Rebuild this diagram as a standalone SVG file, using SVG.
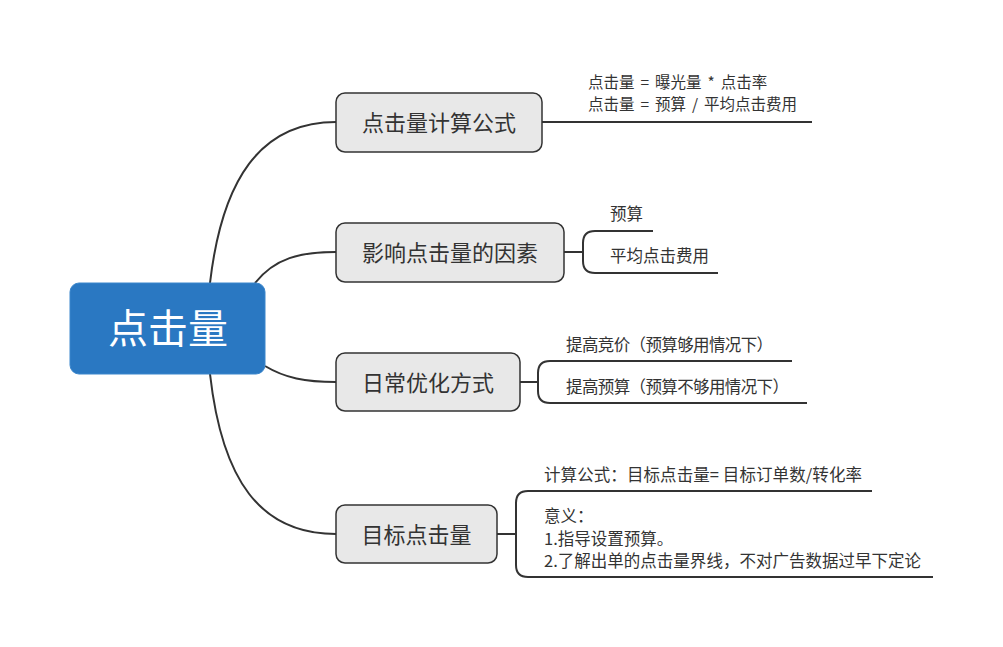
<svg xmlns="http://www.w3.org/2000/svg" width="1003" height="647" viewBox="0 0 1003 647">
<style>
.node rect{fill:#e8e8e8;stroke:#333;stroke-width:1.5}
.ntxt{font-family:"Noto Sans CJK SC","Microsoft YaHei",sans-serif;font-size:22px;fill:#333;text-anchor:middle;dominant-baseline:central}
.leaf{font-family:"Noto Sans CJK SC","Microsoft YaHei",sans-serif;font-size:16.5px;fill:#333}
.conn path{fill:none;stroke:#333;stroke-width:2}
</style>
<rect width="1003" height="647" fill="#fff"/>
<g id="connectors" class="conn">
<path d="M210,283 C222,180 260,122 336,122"/>
<path d="M255,283 C275,258 300,252 336,252"/>
<path d="M265,366 C285,378 305,382 336,382"/>
<path d="M210,374 C222,480 260,534 336,534"/>
<path d="M542,122 H812"/>
<path d="M564,252 H583"/>
<path d="M653,231 H595 Q583,231 583,243 V261 Q583,273 595,273 H718"/>
<path d="M520,382 H538"/>
<path d="M792,361 H550 Q538,361 538,373 V391 Q538,403 550,403 H807"/>
<path d="M497,534 H516"/>
<path d="M872,491 H528 Q516,491 516,503 V565 Q516,577 528,577 H933"/>
</g>
<g id="root">
<rect x="70" y="283" width="195" height="91" rx="9" fill="#2a78c2" stroke="#3a86cc" stroke-width="1"/>
<text x="168" y="326" font-family="Noto Sans CJK SC, Microsoft YaHei, sans-serif" font-size="40" fill="#fff" text-anchor="middle" dominant-baseline="central">点击量</text>
</g>
<g id="n1" class="node">
<rect x="336" y="93" width="206" height="59" rx="9"/>
<text class="ntxt" x="439" y="120.5">点击量计算公式</text>
</g>
<g id="n2" class="node">
<rect x="336" y="223" width="228" height="59" rx="9"/>
<text class="ntxt" x="450" y="250.5">影响点击量的因素</text>
</g>
<g id="n3" class="node">
<rect x="336" y="353" width="184" height="58" rx="9"/>
<text class="ntxt" x="428" y="380.5">日常优化方式</text>
</g>
<g id="n4" class="node">
<rect x="336" y="505" width="161" height="58" rx="9"/>
<text class="ntxt" x="416.5" y="532.5">目标点击量</text>
</g>
<g id="l1">
<text class="leaf" style="font-size:15.5px" word-spacing="2.5"><tspan x="588" y="87.5">点击量 = 曝光量 * 点击率</tspan><tspan x="588" y="110">点击量 = 预算 / 平均点击费用</tspan></text>
</g>
<g id="l2">
<text class="leaf" x="610" y="220">预算</text>
<text class="leaf" x="610" y="262">平均点击费用</text>
</g>
<g id="l3">
<text class="leaf" x="566" y="351" textLength="207" lengthAdjust="spacing">提高竞价（预算够用情况下）</text>
<text class="leaf" x="566" y="393" textLength="223" lengthAdjust="spacing">提高预算（预算不够用情况下）</text>
</g>
<g id="l4">
<text class="leaf" x="544" y="481" textLength="318" lengthAdjust="spacing">计算公式：目标点击量= 目标订单数/转化率</text>
<text class="leaf"><tspan x="544" y="522">意义：</tspan><tspan x="544" y="545">1.指导设置预算。</tspan><tspan x="544" y="567" textLength="377" lengthAdjust="spacing">2.了解出单的点击量界线，不对广告数据过早下定论</tspan></text>
</g>
</svg>
